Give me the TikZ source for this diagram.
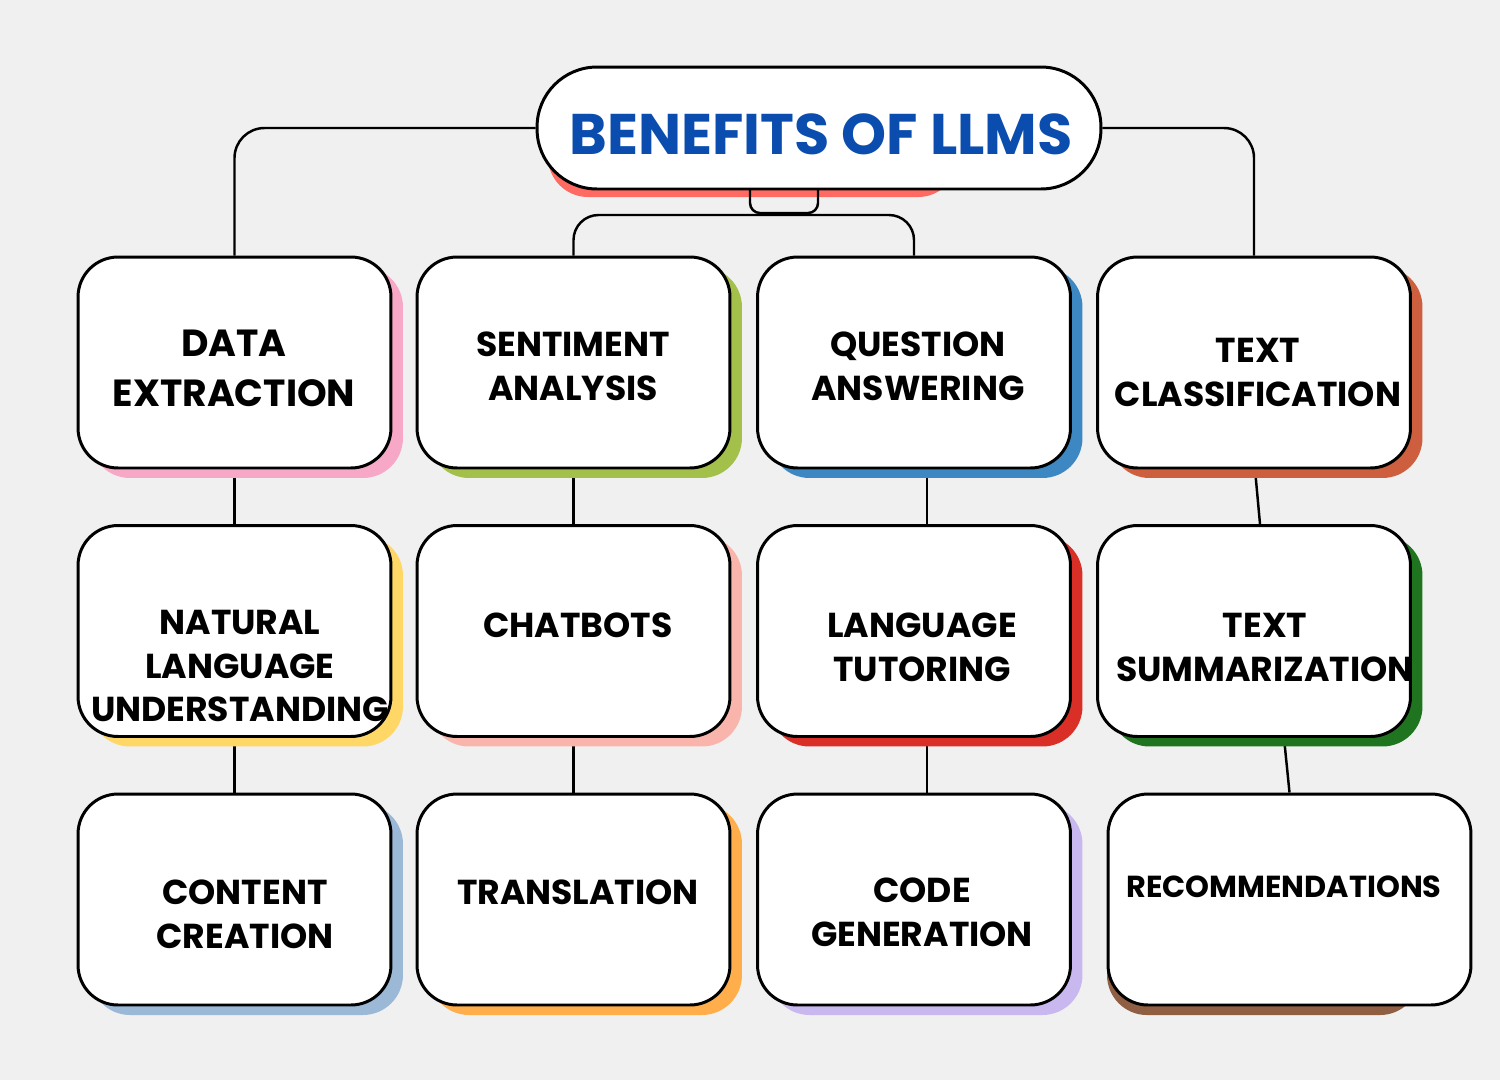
\documentclass[tikz,border=0pt]{standalone}
\usepackage{fontspec}
\setmainfont{Poppins}
\usetikzlibrary{positioning,calc,shadows}
\definecolor{paper}{HTML}{F0F0F0}
\definecolor{titleblue}{HTML}{0A4DAE}
\definecolor{titleshade}{HTML}{FF6B63}
\definecolor{shpink}{HTML}{F7A8C6}
\definecolor{shgreen}{HTML}{A3C14A}
\definecolor{shblue}{HTML}{3D88C2}
\definecolor{shrust}{HTML}{CD5F3F}
\definecolor{shyellow}{HTML}{FED766}
\definecolor{shsalmon}{HTML}{F9B5AC}
\definecolor{shred}{HTML}{D92F27}
\definecolor{shforest}{HTML}{1F741F}
\definecolor{shsky}{HTML}{9BB8D7}
\definecolor{shorange}{HTML}{FFAE4B}
\definecolor{shlavender}{HTML}{C9B8EF}
\definecolor{shbrown}{HTML}{8F5E43}
\pgfdeclarelayer{bg}
\pgfdeclarelayer{links}
\pgfsetlayers{bg,links,main}
\tikzset{
    every picture/.style={line cap=round,line join=round},
    card/.style={draw=black,fill=white,line width=1.7pt,rounded corners=0.8cm,
      minimum width=6.26cm,minimum height=4.22cm,inner sep=0pt,
      general shadow={fill=#1,shadow xshift=0.24cm,shadow yshift=-0.2cm}},
    plaincard/.style={draw=black,fill=white,line width=1.7pt,rounded corners=0.8cm,
      minimum height=4.22cm,inner sep=0pt},
    cardtext/.style={font=\bfseries\fontsize{19.7}{25}\selectfont,align=center,inner sep=0pt},
    link/.style={draw=black,line width=1.4pt}
}

\begin{document}
\begin{tikzpicture}[x=0.02cm,y=-0.02cm]
  \begin{pgfonlayer}{bg}
    \fill[paper] (0,0) rectangle (1500,1080);
    \fill[titleshade,rounded corners=0.8cm] (548,90) rectangle (958,197);
    \fill[shbrown,rounded corners=0.8cm] (1107,815) rectangle (1420,1015);
  \end{pgfonlayer}

  % title
  \node[plaincard,minimum width=11.28cm,minimum height=2.44cm,rounded corners=1.2cm] (title) at (819,128) {};
  \node[inner sep=0pt,text=titleblue,font=\bfseries\fontsize{32.6}{40}\selectfont] (title-t) at (821,134) {BENEFITS OF LLMS};

  % first row
  \node[card=shpink] (de) at (234.5,362.5) {};
  \node[card=shgreen] (sa) at (573.5,362.5) {};
  \node[card=shblue] (qa) at (914,362.5) {};
  \node[card=shrust] (tc) at (1254,362.5) {};
  % second row
  \node[card=shyellow] (nlu) at (234.5,631) {};
  \node[card=shsalmon] (cb) at (573.5,631) {};
  \node[card=shred] (lt) at (914,631) {};
  \node[card=shforest] (ts) at (1254,631) {};
  % third row
  \node[card=shsky] (cc) at (234.5,899.5) {};
  \node[card=shorange] (tr) at (573.5,899.5) {};
  \node[card=shlavender] (cg) at (914,899.5) {};
  \node[plaincard,minimum width=7.26cm] (rec) at (1289.5,899.5) {};

  % labels
  \node[cardtext,font=\bfseries\fontsize{21.5}{28.4}\selectfont] (de-t) at (234,368) {DATA\\EXTRACTION};
  \node[cardtext] (sa-t) at (573,366) {SENTIMENT\\ANALYSIS};
  \node[cardtext] (qa-t) at (918,366) {QUESTION\\ANSWERING};
  \node[cardtext] (tc-t) at (1258,372) {TEXT\\CLASSIFICATION};
  \node[cardtext] (nlu-t) at (240,666) {NATURAL\\LANGUAGE\\UNDERSTANDING};
  \node[cardtext] (cb-t) at (578,625) {CHATBOTS};
  \node[cardtext] (lt-t) at (922,647) {LANGUAGE\\TUTORING};
  \node[cardtext] (ts-t) at (1265,647) {TEXT\\SUMMARIZATION};
  \node[cardtext] (cc-t) at (245,914) {CONTENT\\CREATION};
  \node[cardtext] (tr-t) at (578,892) {TRANSLATION};
  \node[cardtext] (cg-t) at (922,912) {CODE\\GENERATION};
  \node[cardtext,font=\bfseries\fontsize{17.3}{22}\selectfont] (rec-t) at (1284,887) {RECOMMENDATIONS};

  \coordinate (hookl) at (750,189);
  \coordinate (hookr) at (818,189);
  \coordinate (hookm) at (784,213);
  \coordinate (bus) at (740,215);

  \begin{pgfonlayer}{links}
    \draw[link,rounded corners=0.6cm] (title.west) -| (de.north);
    \draw[link,rounded corners=0.6cm] (title.east) -| (tc.north);
    \draw[link,rounded corners=0.2cm] (hookl) |- (hookm) -| (hookr);
    \draw[link,rounded corners=0.5cm] (sa.north) |- (bus) -| (qa.north);
    \draw[link] (de.south) -- (nlu.north);
    \draw[link] (nlu.south) -- (cc.north);
    \draw[link] (sa.south) -- (cb.north);
    \draw[link] (cb.south) -- (tr.north);
    \draw[link] ([xshift=0.26cm]qa.south) -- ([xshift=0.26cm]lt.north);
    \draw[link] ([xshift=0.26cm]lt.south) -- ([xshift=0.26cm]cg.north);
    \draw[link] ([xshift=0.02cm]tc.south) -- ([xshift=0.12cm]ts.north);
    \draw[link] ([xshift=0.6cm]ts.south) -- (rec.north);
  \end{pgfonlayer}
\end{tikzpicture}
\end{document}
